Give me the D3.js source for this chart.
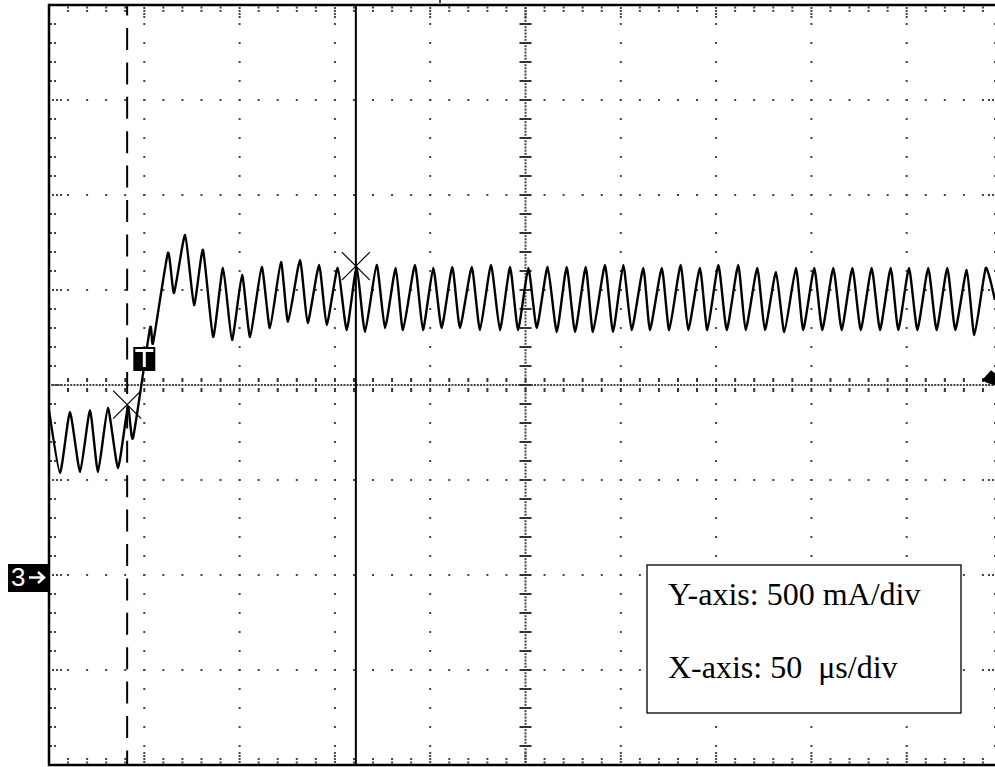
<!DOCTYPE html>
<html>
<head>
<meta charset="utf-8">
<script src="https://cdn.jsdelivr.net/npm/d3@7"></script>
<style>
  body { margin: 0; background: #fff; }
  svg { display: block; }
</style>
</head>
<body>
<svg id="scope" width="995" height="767"></svg>
<script>
// Trace: time in µs from left edge, current in mA (ch3 ground = 0)
var timeUs = [
  0, 5.8, 11.0, 16.3, 21.5, 25.7, 30.9, 36.2, 41.4, 44.1,
  53.0, 54.6, 62.4, 65.6, 71.4, 76.1, 80.8, 86.1, 91.3, 96.0,
  101.3, 105.5, 111.6, 115.9, 121.7, 125.4, 131.7, 135.7, 141.7, 145.7,
  151.5, 156.2, 161.4, 165.8, 171.9, 176.3, 181.9, 185.7, 192.0, 196.2,
  201.6, 206.0, 211.6, 215.6, 221.8, 226.1, 231.9, 236.6, 241.9, 246.1,
  251.5, 255.9, 261.6, 266.4, 271.6, 276.0, 281.6, 285.4, 291.7, 295.9,
  301.3, 305.7, 311.8, 315.3, 321.5, 325.4, 331.4, 335.4, 341.5, 345.4,
  351.2, 355.6, 361.6, 365.5, 371.6, 375.6, 381.4, 385.8, 391.9, 395.7,
  401.5, 405.7, 411.5, 415.9, 421.5, 425.9, 431.6, 436.0, 441.6, 445.6,
  451.2, 455.6, 461.3, 465.7, 471.3, 475.5, 481.5, 485.5, 491.5, 496.3
];
var currentMa = [
  868, 537, 858, 542, 868, 542, 879, 563, 884, 721,
  1300, 1221, 1695, 1484, 1789, 1421, 1711, 1253, 1616, 1237,
  1579, 1253, 1621, 1300, 1647, 1332, 1658, 1326, 1632, 1316,
  1616, 1289, 1621, 1279, 1632, 1300, 1616, 1289, 1632, 1289,
  1616, 1300, 1621, 1300, 1621, 1289, 1632, 1289, 1621, 1289,
  1616, 1300, 1621, 1279, 1621, 1279, 1621, 1279, 1632, 1279,
  1632, 1289, 1616, 1289, 1616, 1289, 1632, 1289, 1616, 1289,
  1632, 1289, 1632, 1289, 1616, 1289, 1595, 1279, 1616, 1289,
  1616, 1289, 1616, 1289, 1616, 1289, 1616, 1289, 1616, 1289,
  1616, 1289, 1616, 1289, 1616, 1289, 1605, 1263, 1616, 1447
];

// cursors and markers
var cursorTimes = [41, 161];      // dashed / solid cursor
var cursorLevels = [897, 1626];   // X marks where cursors meet the trace
var triggerTime = 50;
var triggerLevel = 1030;
var legendLines = ["Y-axis: 500 mA/div", "X-axis: 50  \u03bcs/div"];

var svg = d3.select("#scope"),
    width = +svg.attr("width"),
    height = +svg.attr("height");

// screen: 10 x 8 divisions, right edge runs off the picture
var sLeft = 49, sRight = 1002, sTop = 5, sBottom = 765;

var x = d3.scaleLinear().domain([0, 500]).range([sLeft, sRight]);
var y = d3.scaleLinear().domain([-1000, 3000]).range([sBottom, sTop]);
var xDiv = d3.scaleLinear().domain([0, 10]).range([sLeft, sRight]);
var yDiv = d3.scaleLinear().domain([0, 8]).range([sTop, sBottom]);

svg.append("rect").attr("width", width).attr("height", height).attr("fill", "#fff");

// graticule dots
var dots = [];
var i, j, k;
for (k = 1; k < 10; k++) {
  if (k == 5) continue;
  for (j = 1; j < 40; j++) dots.push([xDiv(k), yDiv(j / 5)]);
}
for (j = 1; j < 8; j++) {
  if (j == 4) continue;
  for (i = 1; i < 50; i++) dots.push([xDiv(i / 5), yDiv(j)]);
}
// edge ticks
for (i = 1; i < 50; i++) {
  var xx = xDiv(i / 5);
  var offs = (i % 5 == 0) ? [3, 6, 9, 12] : [2.5, 6];
  offs.forEach(function(o) { dots.push([xx, sTop + o]); dots.push([xx, sBottom - o]); });
}
for (j = 1; j < 40; j++) {
  var yy = yDiv(j / 5);
  var offs2 = (j % 5 == 0) ? [4, 8, 12] : [2, 6];
  offs2.forEach(function(o) { dots.push([sLeft + o, yy]); dots.push([sRight - o - 1, yy]); });
}
// centre lines, fine dotted
var cx = xDiv(5), cy = yDiv(4);
for (var p = sLeft; p < width; p += 19.06 / 6) dots.push([p, cy]);
for (var q = sTop; q < sBottom; q += 19 / 6) dots.push([cx, q]);

svg.append("g")
  .selectAll("rect")
  .data(dots)
  .enter()
  .append("rect")
    .attr("x", function(d){ return d[0] - 1 })
    .attr("y", function(d){ return d[1] - 1 })
    .attr("width", 2)
    .attr("height", 2)
    .attr("fill", "#444");

// centre line ticks
var ticks = svg.append("g").attr("fill", "#333");
for (i = 1; i < 50; i++) {
  ticks.append("rect").attr("x", xDiv(i / 5) - 1).attr("y", cy - 7).attr("width", 2).attr("height", 4);
  ticks.append("rect").attr("x", xDiv(i / 5) - 1).attr("y", cy + 3).attr("width", 2).attr("height", 4);
}
for (j = 1; j < 40; j++) {
  ticks.append("rect").attr("x", cx - 6).attr("y", yDiv(j / 5) - 1).attr("width", 12).attr("height", 2);
}

// border
svg.append("path")
  .attr("d", "M" + sRight + "," + sTop + "H" + sLeft + "V" + sBottom + "H" + sRight)
  .attr("fill", "none")
  .attr("stroke", "#000")
  .attr("stroke-width", 2.5);

// cursors
svg.append("line")
  .attr("x1", x(cursorTimes[0])).attr("x2", x(cursorTimes[0]))
  .attr("y1", sTop).attr("y2", sBottom)
  .attr("stroke", "#000").attr("stroke-width", 2)
  .attr("stroke-dasharray", "22,12.4").attr("stroke-dashoffset", 11.4);
svg.append("line")
  .attr("x1", x(cursorTimes[1])).attr("x2", x(cursorTimes[1]))
  .attr("y1", sTop).attr("y2", sBottom)
  .attr("stroke", "#000").attr("stroke-width", 2);

// trace
svg.append("defs").append("clipPath").attr("id", "clip")
  .append("rect").attr("x", sLeft).attr("y", sTop).attr("width", width - sLeft).attr("height", sBottom - sTop);

var trace = timeUs.map(function(t, n){ return [t, currentMa[n]] });
svg.append("path")
  .datum(trace)
  .attr("clip-path", "url(#clip)")
  .attr("fill", "none")
  .attr("stroke", "#000")
  .attr("stroke-width", 2.4)
  .attr("stroke-linejoin", "round")
  .attr("d", d3.line()
      .x(function(d){ return x(d[0]) })
      .y(function(d){ return y(d[1]) })
      .curve(d3.curveCardinal.tension(0.5)));

// X marks at cursor crossings
cursorTimes.forEach(function(t, n) {
  var px = x(t), py = y(cursorLevels[n]), s = 14;
  svg.append("path")
    .attr("d", "M" + (px - s) + "," + (py - s) + "L" + (px + s) + "," + (py + s) +
               "M" + (px - s) + "," + (py + s) + "L" + (px + s) + "," + (py - s))
    .attr("stroke", "#000").attr("stroke-width", 1.2);
});

// trigger "T" marker
var tx = x(triggerTime);
svg.append("rect").attr("x", tx - 11).attr("y", 347).attr("width", 22).attr("height", 24).attr("fill", "#000");
svg.append("rect").attr("x", tx - 9).attr("y", 349).attr("width", 18).attr("height", 3).attr("fill", "#fff");
svg.append("rect").attr("x", tx - 1.5).attr("y", 349).attr("width", 3).attr("height", 18).attr("fill", "#fff");

// trigger position tick above the screen
svg.append("rect").attr("x", 439).attr("y", 0).attr("width", 2).attr("height", 3).attr("fill", "#444");

// trigger level arrow at the right edge
var ty = y(triggerLevel);
svg.append("path")
  .attr("d", "M" + 982 + "," + (ty + 1) + "L" + 991 + "," + (ty - 9) + "L" + 995 + "," + (ty - 6) +
             "L" + 995 + "," + (ty + 6) + "L" + 988 + "," + (ty + 4) + "Z")
  .attr("fill", "#000");

// channel 3 ground marker
var gy = y(0);
svg.append("rect").attr("x", 8).attr("y", gy - 11).attr("width", 41).attr("height", 28).attr("fill", "#000");
svg.append("text")
  .attr("x", 11).attr("y", gy + 11)
  .attr("fill", "#fff")
  .style("font-family", "Liberation Sans, Arial, sans-serif")
  .style("font-size", "26px")
  .text("3");
svg.append("path")
  .attr("d", "M29," + (gy + 2.5) + "H44M38," + (gy - 3) + "L44," + (gy + 2.5) + "L38," + (gy + 8))
  .attr("stroke", "#fff").attr("stroke-width", 2.5).attr("fill", "none");

// scale legend
svg.append("rect")
  .attr("x", 647).attr("y", 565).attr("width", 314).attr("height", 148)
  .attr("fill", "#fff").attr("stroke", "#000").attr("stroke-width", 1.3);
svg.append("g")
  .selectAll("text")
  .data(legendLines)
  .enter()
  .append("text")
    .attr("x", 668)
    .attr("y", function(d, n){ return 605 + n * 73 })
    .attr("xml:space", "preserve")
    .style("white-space", "pre")
    .style("font-family", "Liberation Serif, Times New Roman, serif")
    .style("font-size", "32px")
    .attr("fill", "#000")
    .text(function(d){ return d });
</script>
</body>
</html>
